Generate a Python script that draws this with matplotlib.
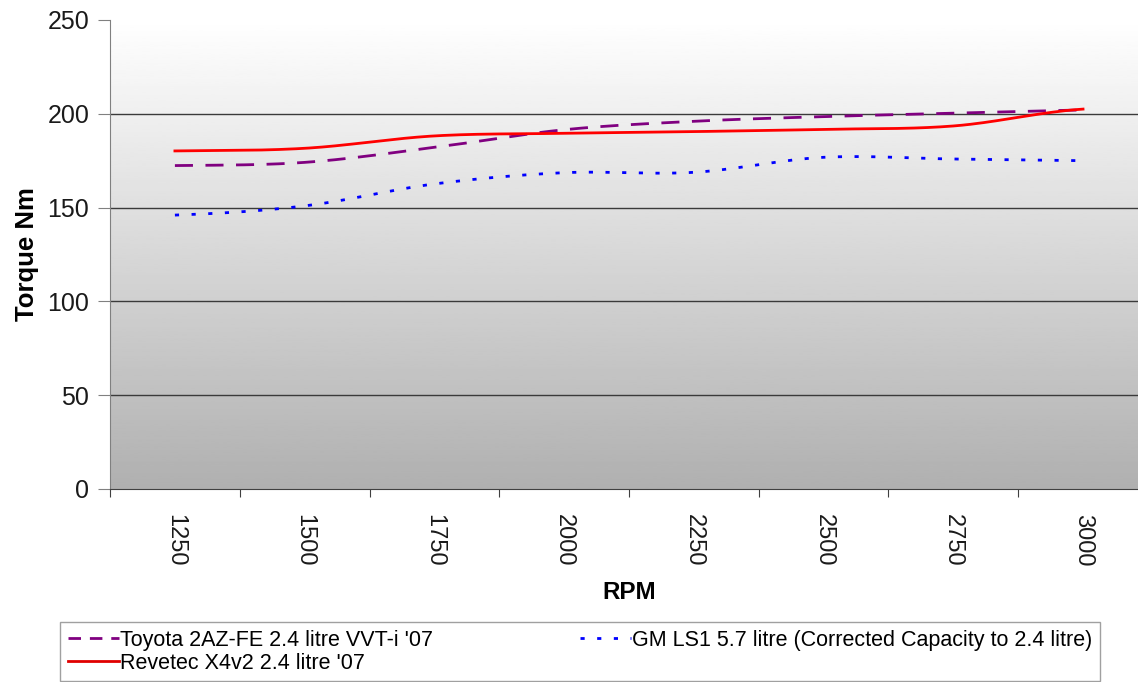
import matplotlib
matplotlib.use('Agg')
import matplotlib.pyplot as plt
import numpy as np

plt.rcParams['font.family'] = ['Liberation Sans', 'DejaVu Sans']

# 数据
rpm = ['1250', '1500', '1750', '2000', '2250', '2500', '2750', '3000']
toyota = [172.4, 174.1, 182.1, 191.5, 196.0, 198.5, 200.3, 202.0]
revetec = [180.2, 181.6, 188.2, 189.6, 190.5, 191.7, 193.5, 202.5]
gm_ls1 = [146.0, 150.9, 162.6, 168.6, 168.8, 176.8, 175.9, 175.0]

labels = ["Toyota 2AZ-FE 2.4 litre VVT-i '07",
          "Revetec X4v2 2.4 litre '07",
          "GM LS1 5.7 litre (Corrected Capacity to 2.4 litre)"]


def smooth(y, n=30):
    # Excel 风格的平滑线 (Catmull-Rom)
    y = np.asarray(y, dtype=float)
    p = np.concatenate([[y[0]], y, [y[-1]]])
    xs, ys = [], []
    for i in range(len(y) - 1):
        t = np.linspace(0, 1, n, endpoint=False)
        p0, p1, p2, p3 = p[i], p[i + 1], p[i + 2], p[i + 3]
        seg = 0.5 * ((2 * p1) + (-p0 + p2) * t + (2 * p0 - 5 * p1 + 4 * p2 - p3) * t ** 2
                     + (-p0 + 3 * p1 - 3 * p2 + p3) * t ** 3)
        xs.append(i + t)
        ys.append(seg)
    xs.append([len(y) - 1])
    ys.append([y[-1]])
    return np.concatenate(xs), np.concatenate(ys)


fig = plt.figure(figsize=(11.38, 6.82), dpi=100)
ax = fig.add_axes([0.0967, 0.283, 0.912, 0.6877])

x = np.arange(len(rpm))
ax.set_xlim(-0.5, len(rpm) - 0.5)
ax.set_ylim(0, 250)

# 渐变背景
grad = np.linspace(0.69, 1.0, 256).reshape(-1, 1)
ax.imshow(grad, cmap='gray', vmin=0, vmax=1, aspect='auto', origin='lower',
          extent=(-0.5, len(rpm) - 0.5, 0, 250), zorder=0)

for yv in [50, 100, 150, 200]:
    ax.axhline(yv, color='#3a3a3a', lw=1.0, zorder=1)

xs, ys = smooth(toyota)
ax.plot(xs, ys, color='#800080', lw=2.0, dashes=(6.5, 4.5), zorder=3)
xs, ys = smooth(revetec)
ax.plot(xs, ys, color='#ff0000', lw=2.0, zorder=3)
xs, ys = smooth(gm_ls1)
ax.plot(xs, ys, color='#0000ff', lw=2.0, dashes=(1.5, 4.5), zorder=3)

# 图例代理
h1, = ax.plot([], [], color='#800080', lw=2.0, dashes=(4.5, 3.2))
h2, = ax.plot([], [], color='#e00000', lw=2.0)
h3, = ax.plot([], [], color='#0000ff', lw=2.0, dashes=(1.5, 4.5))

# 坐标轴
for s in ['top', 'right']:
    ax.spines[s].set_visible(False)
ax.spines['left'].set_color('#808080')
ax.spines['bottom'].set_color('#404040')

ax.set_yticks([0, 50, 100, 150, 200, 250])
ax.tick_params(axis='y', labelsize=18, length=9, color='#808080', labelcolor='#1a1a1a', pad=6)

ax.set_xticks(np.arange(-0.5, len(rpm), 1.0))
ax.set_xticklabels([])
ax.tick_params(axis='x', which='major', length=6, color='#404040')
ax.set_xticks(x, minor=True)
ax.set_xticklabels(rpm, minor=True, rotation=-90, fontsize=17, color='#1a1a1a')
ax.tick_params(axis='x', which='minor', length=0, pad=18)

ax.set_ylabel('Torque Nm', fontsize=18.5, fontweight='bold', labelpad=6)
ax.set_xlabel('RPM', fontsize=17.5, fontweight='bold', labelpad=10)

fig.legend([h1, h2, h3], labels, loc='upper left', bbox_to_anchor=(0.0527, 0.088),
           ncol=2, fontsize=15.5, frameon=True, fancybox=False, edgecolor='#888888',
           handlelength=2.4, handletextpad=0.05, columnspacing=6.8, borderpad=0.35,
           borderaxespad=0, labelspacing=0.1)

fig.savefig('out.png', dpi=100)
